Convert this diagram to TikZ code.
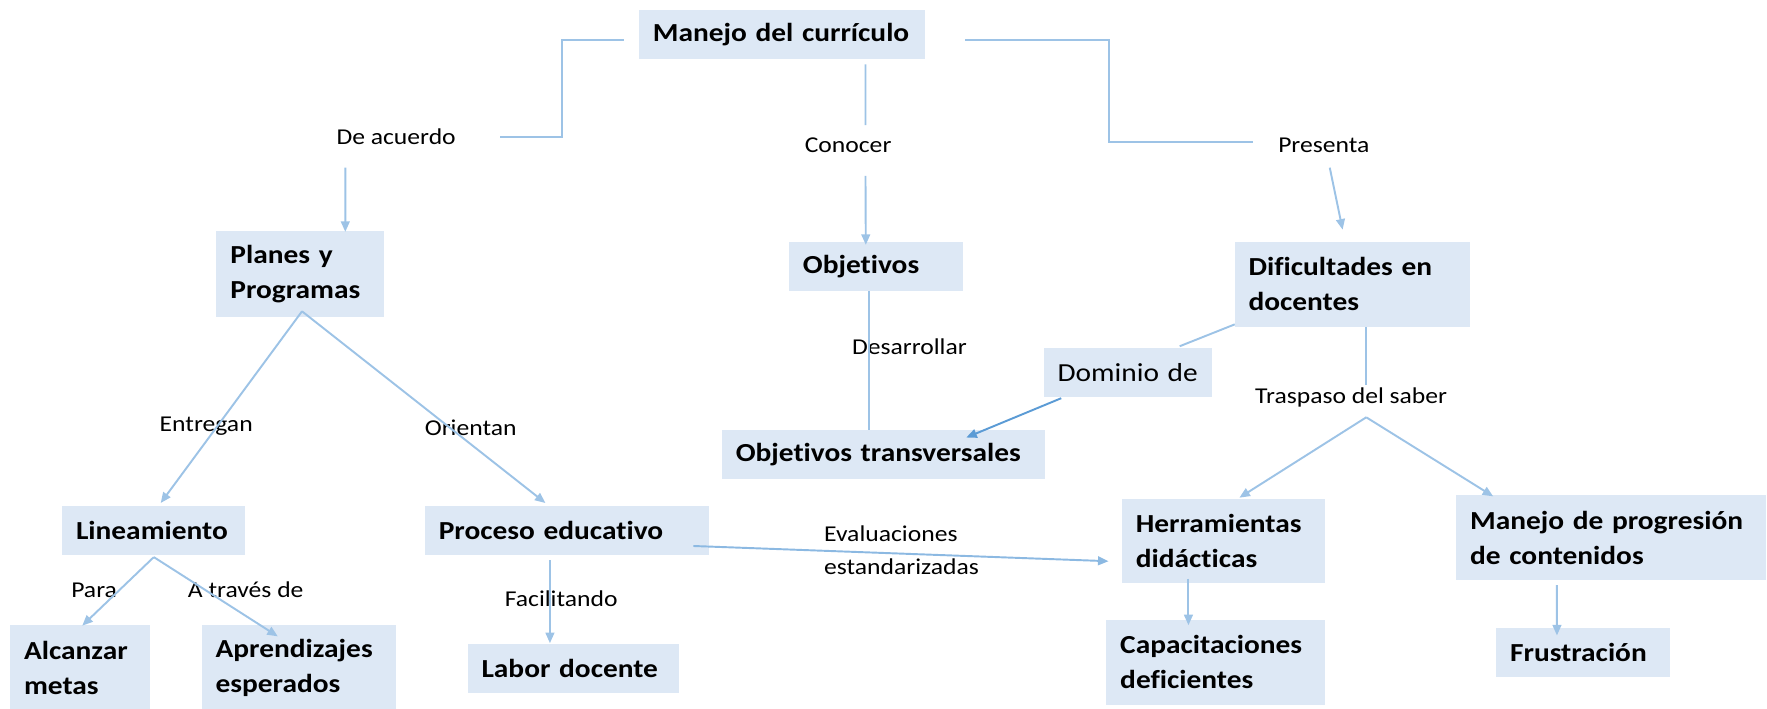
\documentclass[tikz,border=0pt]{standalone}
\usepackage{fontspec}
\setmainfont{Carlito}[FakeStretch=1.13, Ligatures=NoCommon]
\usetikzlibrary{arrows.meta,calc}

\definecolor{boxfill}{HTML}{DDE8F5}
\definecolor{linkblue}{HTML}{9DC3E6}
\definecolor{darkblue}{HTML}{5B9BD5}
\newcommand{\conceptfont}{\bfseries\fontsize{14.8}{19.9}\selectfont}
\newcommand{\plainfont}{\fontsize{14.8}{19.9}\selectfont}
\newcommand{\wordfont}{\fontsize{12.9}{19}\selectfont}

\tikzset{
  concept/.style 2 args={fill=boxfill, font=\conceptfont, align=left,
    inner xsep=0.28cm, inner ysep=0pt, text width=#1, minimum height=#2},
  word/.style={font=\wordfont, inner sep=0pt},
  conn/.style={draw=linkblue, line width=1.1pt},
  flow/.style={conn, -{Triangle[length=6pt,width=5pt]}},
  darkflow/.style={flow, draw=darkblue}
}

\begin{document}
\begin{tikzpicture}[x=0.02254cm, y=-0.02254cm]
  \useasboundingbox (0,0) rectangle (1568,629);

  % concepts
  \node[concept={5.17cm}{0.99cm}] (curr)     at (694,30.4)    {Manejo del currículo};
  \node[concept={2.79cm}{1.71cm}] (planes)   at (266.4,243)   {Planes y\\Programas};
  \node[concept={2.92cm}{0.98cm}] (objet)    at (777.3,236.3) {Objetivos};
  \node[concept={4.15cm}{1.70cm}] (dific)    at (1200,252.3)  {Dificultades en\\docentes};
  \node[concept={2.81cm}{0.98cm}, font=\plainfont] (dominio) at (1000.8,330.3) {Dominio de};
  \node[concept={5.90cm}{0.98cm}] (objtrans) at (783.8,403.3) {Objetivos transversales};
  \node[concept={3.51cm}{1.67cm}] (herram)   at (1085.8,480)  {Herramientas\\didácticas};
  \node[concept={5.63cm}{1.71cm}] (progres)  at (1429.4,477)  {Manejo de progresión\\de contenidos};
  \node[concept={3.82cm}{1.70cm}] (capac)    at (1078.8,587.8) {Capacitaciones\\deficientes};
  \node[concept={2.92cm}{0.98cm}] (frust)    at (1404.8,578.9) {Frustración};
  \node[concept={3.09cm}{0.98cm}] (linea)    at (136,470.8)   {Lineamiento};
  \node[concept={5.12cm}{0.98cm}] (proceso)  at (503,470.8)   {Proceso educativo};
  \node[concept={2.24cm}{1.69cm}] (alcanzar) at (71,592.5)    {Alcanzar\\metas};
  \node[concept={3.32cm}{1.69cm}] (aprend)   at (265,592.5)   {Aprendizajes\\esperados};
  \node[concept={3.66cm}{0.99cm}] (labor)    at (508.5,593)   {Labor docente};

  % linking words
  \node[word] (acuerdo)  at (351.5,121.7) {De acuerdo};
  \node[word] (conocer)  at (752.6,129)   {Conocer};
  \node[word] (presenta) at (1174.7,129.3) {Presenta};
  \node[word] (desarr)   at (807,308)     {Desarrollar};
  \node[word] (traspaso) at (1199,352.6)  {Traspaso del saber};
  \node[word] (entregan) at (183,378.6)   {Entregan};
  \node[word] (orientan) at (417.7,380)   {Orientan};
  \node[word] (para)     at (83.5,523.5)  {Para};
  \node[word] (atraves)  at (218,523.5)   {A través de};
  \node[word] (facil)    at (498,531)     {Facilitando};
  \node[word, anchor=west, align=left] (evalua) at (731,488) {Evaluaciones\\estandarizadas};

  \coordinate (fork)  at ($(planes.south)+(1.6,-5)$);
  \coordinate (split) at ($(traspaso.center)+(13.4,17.7)$);
  \coordinate (lfork) at ($(linea.south)+(0.5,1.5)$);

  \draw[conn] ($(curr.west)+(-13,5)$) -- ++(-55,0) |- ($(acuerdo.center)+(92,0)$);
  \draw[flow] ($(acuerdo.center)+(-45,27)$) -- ($(planes.north)+(40,1)$);
  \draw[conn] ($(curr.south)+(74,4.4)$) -- ($(conocer.center)+(15.4,-18)$);
  \draw[flow] ($(conocer.center)+(15.4,27)$) -- ($(objet.north)+(-9,3)$);
  \draw[conn] ($(curr.east)+(35,5)$) -- ++(128,0) |- ($(presenta.center)+(-62.7,-3)$);
  \draw[flow] ($(presenta.center)+(5.3,19.5)$) -- ($(dific.north)+(-8.6,-10.5)$);
  \draw[conn] ($(objet.south)+(-6.3,0)$) -- ($(objtrans.north)+(-12.8,0)$);
  \draw[conn] ($(dific.south west)+(0.5,-2.5)$) -- ($(dominio.north)+(46,-1)$);
  \draw[darkflow] ($(dominio.south west)+(16,1)$) -- ($(objtrans.north east)+(-70,7)$);
  \draw[conn] ($(dific.south)+(12.4,0)$) -- ($(traspaso.center)+(13.4,-11)$);
  \draw[flow] (split) -- ($(herram.north)+(14,-1)$);
  \draw[flow] (split) -- ($(progres.north)+(-104.4,1.7)$);
  \draw[flow] ($(herram.south)+(-31.2,-4)$) -- ($(capac.north)+(-24.2,5)$);
  \draw[flow] ($(progres.south)+(-47.8,4)$) -- ($(frust.north)+(-23.2,7)$);
  \draw[flow] (fork) -- ($(linea.north)+(6.6,-2.4)$);
  \draw[flow] (fork) -- ($(proceso.north)+(-19,-2.4)$);
  \draw[flow] (lfork) -- ($(alcanzar.north)+(2,0.5)$);
  \draw[flow] (lfork) -- ($(aprend.north)+(-18.5,10)$);
  \draw[flow] ($(proceso.south)+(-15,4.5)$) -- ($(labor.north)+(-20.5,0)$);
  \draw[darkflow, draw=darkblue!70] ($(proceso.east)+(-14,13.7)$) -- ($(herram.west)+(-11.5,18)$);
\end{tikzpicture}
\end{document}
